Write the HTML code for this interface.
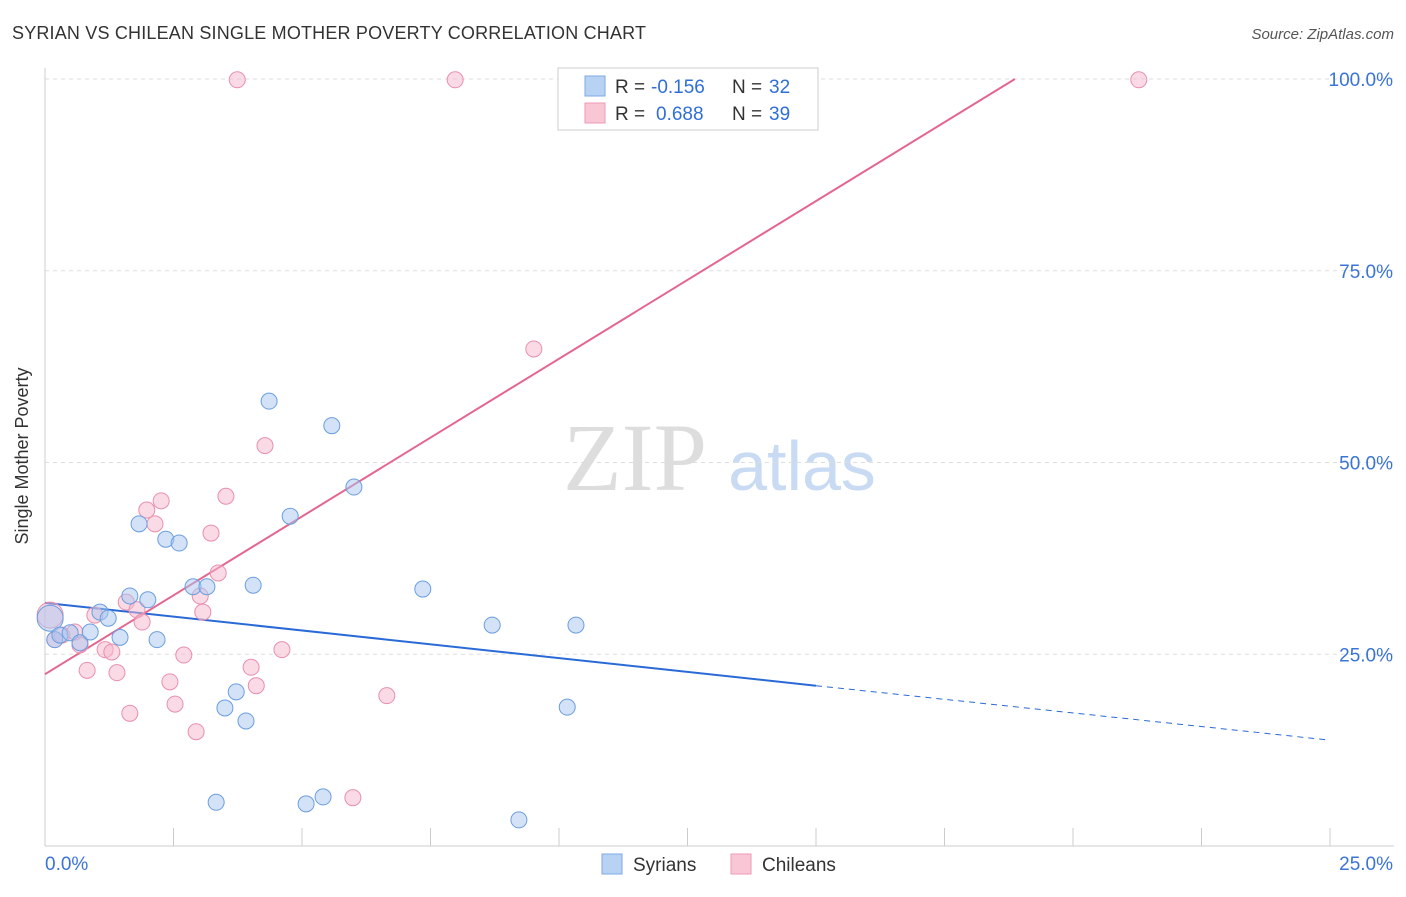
<!DOCTYPE html>
<html><head><meta charset="utf-8"><style>
body{margin:0;background:#fff;font-family:"Liberation Sans",sans-serif;}
svg text{font-family:"Liberation Sans",sans-serif;}
</style></head><body>
<svg id="chart" width="1406" height="892">
<text x="12" y="39" font-size="18" fill="#333" textLength="634">SYRIAN VS CHILEAN SINGLE MOTHER POVERTY CORRELATION CHART</text>
<text x="1394" y="39" font-size="15" fill="#555" text-anchor="end" font-style="italic">Source: ZipAtlas.com</text>
<text x="28" y="456" font-size="18" fill="#333" text-anchor="middle" transform="rotate(-90 28 456)">Single Mother Poverty</text>
<g>
<text x="635" y="490" font-size="96" fill="#ddd" text-anchor="middle" style="font-family:'Liberation Serif',serif">ZIP</text>
<text x="802" y="490" font-size="70" fill="#c9daf3" text-anchor="middle">atlas</text>
</g>
<g id="grid"></g><g id="axes"></g><g id="lines"></g><g id="pts"></g>
<g>
<rect x="558" y="68" width="260" height="62" fill="#fff" stroke="#ccc"/>
<rect x="585" y="76" width="20" height="20" fill="#b8d2f4" stroke="#7fa9e4"/>
<rect x="585" y="103" width="20" height="20" fill="#f9c6d5" stroke="#ee9ab5"/>
<text x="615" y="93" font-size="19" fill="#333">R =</text>
<text x="651" y="93" font-size="19" fill="#2f6fd6">-0.156</text>
<text x="732" y="93" font-size="19" fill="#333">N =</text>
<text x="769" y="93" font-size="19" fill="#2f6fd6">32</text>
<text x="615" y="120" font-size="19" fill="#333">R =</text>
<text x="656" y="120" font-size="19" fill="#2f6fd6">0.688</text>
<text x="732" y="120" font-size="19" fill="#333">N =</text>
<text x="769" y="120" font-size="19" fill="#2f6fd6">39</text>
</g>
<g>
<rect x="602" y="854" width="20" height="20" fill="#b8d2f4" stroke="#7fa9e4"/>
<text x="633" y="871" font-size="19" fill="#333">Syrians</text>
<rect x="731" y="854" width="20" height="20" fill="#f9c6d5" stroke="#ee9ab5"/>
<text x="762" y="871" font-size="19" fill="#333">Chileans</text>
</g>
</svg>
<script>
const blueX=[0.10,0.19,0.29,0.49,0.68,0.88,1.07,1.23,1.46,1.65,1.83,2.00,2.18,2.35,2.61,2.88,3.15,3.33,3.50,3.72,3.91,4.05,4.36,4.77,5.08,5.41,5.58,6.01,7.35,8.70,9.22,10.16,10.33];
const blueY=[29.7,26.9,27.5,27.8,26.5,27.9,30.5,29.7,27.2,32.6,42.0,32.1,26.9,40.0,39.5,33.8,33.8,5.7,18.0,20.1,16.3,34.0,58.0,43.0,5.5,6.4,54.8,46.8,33.5,28.8,3.4,18.1,28.8];
const pinkX=[0.10,0.19,0.33,0.58,0.68,0.82,0.97,1.17,1.30,1.40,1.58,1.65,1.79,1.89,1.98,2.14,2.26,2.43,2.53,2.70,2.94,3.02,3.07,3.23,3.37,3.52,3.74,4.01,4.11,4.28,4.61,5.99,6.65,7.98,9.51,14.2,21.28];
const pinkY=[30.1,26.9,27.5,27.9,26.2,22.9,30.1,25.6,25.3,22.6,31.8,17.3,30.8,29.2,43.8,42.0,45.0,21.4,18.5,24.9,14.9,32.6,30.5,40.8,35.6,45.6,99.9,23.3,20.9,52.2,25.6,6.3,19.6,99.9,64.8,99.9,99.9];
const yTicks=[25,50,75,100];
const yTickLabels=["25.0%","50.0%","75.0%","100.0%"];
const blueTrend=[[0,31.7],[15,20.9],[25,13.8]];
const pinkTrend=[[0,22.4],[18.87,100]];
const NS="http://www.w3.org/2000/svg";
const xs=v=>45+v/25*1285, ys=v=>846-v*7.67;
function mk(tag,attrs,parent){const e=document.createElementNS(NS,tag);for(const k in attrs)e.setAttribute(k,attrs[k]);document.getElementById(parent).appendChild(e);return e;}
yTicks.forEach((t,i)=>{
 const g=mk('line',{x1:45,x2:1394,y1:ys(t),y2:ys(t),stroke:'#ddd','stroke-dasharray':'4,4'},'grid');
 
 
 const l=mk('text',{x:1393,y:ys(t)+7,'font-size':19,fill:'#3a74d6','text-anchor':'end'},'grid');l.textContent=yTickLabels[i];
 
 
});
mk('line',{x1:45,x2:45,y1:68,y2:846,stroke:'#ccc'},'axes');
const xa=mk('line',{x1:45,x2:1394,y1:846,y2:846,stroke:'#ccc'},'axes');


for(let i=0;i<=10;i++){mk('line',{x1:xs(i*2.5),x2:xs(i*2.5),y1:828,y2:846,stroke:'#ccc'},'axes');}
let t=mk('text',{x:45,y:870,'font-size':19,fill:'#3a74d6'},'axes');t.textContent='0.0%';


t=mk('text',{x:1393,y:870,'font-size':19,fill:'#3a74d6','text-anchor':'end'},'axes');t.textContent='25.0%';


let ln=mk('line',{x1:xs(blueTrend[0][0]),y1:ys(blueTrend[0][1]),x2:xs(blueTrend[1][0]),y2:ys(blueTrend[1][1]),stroke:'#2a6ad6','stroke-width':2},'lines');


ln=mk('line',{x1:xs(blueTrend[1][0]),y1:ys(blueTrend[1][1]),x2:xs(blueTrend[2][0]),y2:ys(blueTrend[2][1]),stroke:'#2a6ad6','stroke-width':1,'stroke-dasharray':'6,5'},'lines');


ln=mk('line',{x1:xs(pinkTrend[0][0]),y1:ys(pinkTrend[0][1]),x2:xs(pinkTrend[1][0]),y2:ys(pinkTrend[1][1]),stroke:'#e4668f','stroke-width':2},'lines');


function pts(X,Y,fill,stroke,name){X.forEach((x,i)=>{const r=i===0?13:8;
 const c=mk('circle',{cx:xs(x),cy:ys(Y[i]),r:r,fill:fill,'fill-opacity':0.5,stroke:stroke,'stroke-width':1},'pts');
 
 });}
pts(pinkX,pinkY,'#f6b8cb','#e98fad','chilean-point');
pts(blueX,blueY,'#a9c6ef','#6a9ee0','syrian-point');
</script>
</body></html>
